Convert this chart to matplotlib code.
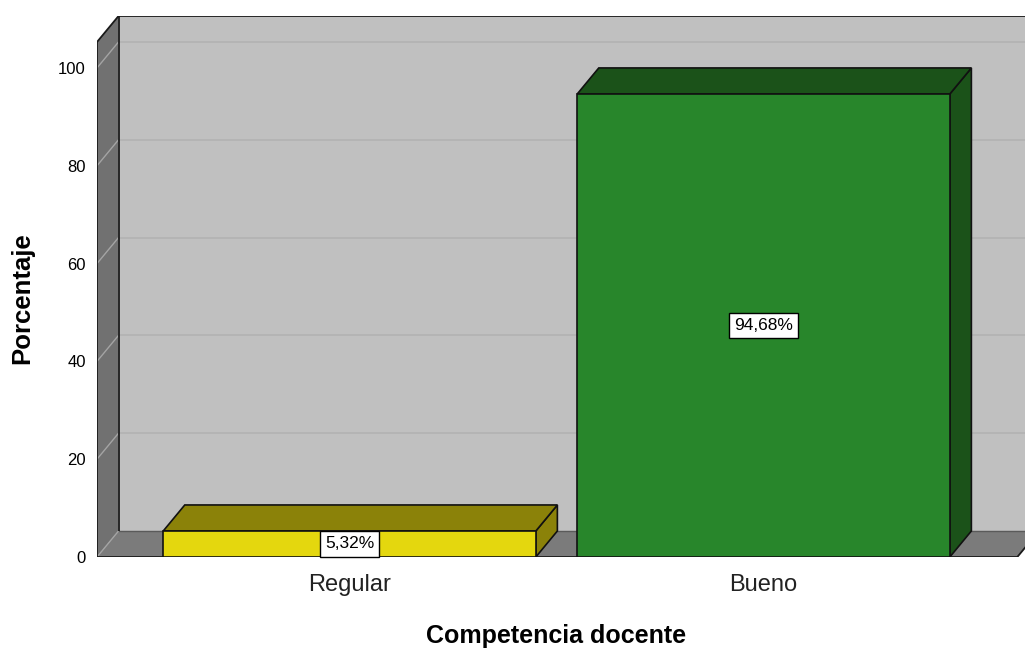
import matplotlib.pyplot as plt
from matplotlib.patches import Polygon, Rectangle

plt.rcParams["font.family"] = ["Liberation Sans", "DejaVu Sans"]

categories = ["Regular", "Bueno"]
percentages = [5.32, 94.68]
labels = ["5,32%", "94,68%"]
front_colors = ["#e4d70e", "#28862b"]
dark_colors = ["#8b8209", "#1b5219"]
yticks = [0, 20, 40, 60, 80, 100]

# fake 3D depth, in data units
DX = 0.052
DY = 5.32
X0, X1 = -0.61, 1.613   # front plane left/right
YTOP = 105.3            # front top of the walls
BAR_W = 0.9

fig = plt.figure(figsize=(10.25, 6.51), dpi=100)
ax = fig.add_axes([97 / 1025, 94 / 651, 928 / 1025, 541 / 651])
ax.set_xlim(X0, X0 + 928 / 414)
ax.set_ylim(0, YTOP + DY)
for s in ax.spines.values():
    s.set_visible(False)
ax.patch.set_visible(False)

# walls
ax.add_patch(Rectangle((X0 + DX, DY), 3, YTOP, facecolor="#c0c0c0", edgecolor="none", zorder=0))
ax.add_patch(Polygon([(X0, 0), (X0, YTOP), (X0 + DX, YTOP + DY), (X0 + DX, DY)],
                     facecolor="#717171", edgecolor="none", zorder=0))
ax.add_patch(Polygon([(X0, 0), (X1, 0), (X1 + DX, DY), (X0 + DX, DY)],
                     facecolor="#7b7b7b", edgecolor="none", zorder=0))

# gridlines on back and left walls
for v in yticks:
    if v > 0:
        ax.plot([X0 + DX, 3], [v + DY, v + DY], color="#b2b2b2", lw=1.2, zorder=1)
    ax.plot([X0, X0 + DX], [v, v + DY], color="#a4a4a4", lw=1.0, zorder=1)

# wall outlines
k = dict(color="#1a1a1a", lw=1.3, zorder=2, solid_capstyle="butt")
ax.plot([X0, X0, X0 + DX, 3], [0, YTOP, YTOP + DY, YTOP + DY], **k)
ax.plot([X0 + DX, X0 + DX], [DY, YTOP + DY], **k)
ax.plot([X0, X1, X1 + DX], [0, 0, DY], **k)
ax.plot([X0 + DX, X1 + DX], [DY, DY], color="#5a5a5a", lw=1.0, zorder=1)

# bars
for i, (v, fc, dc, lab) in enumerate(zip(percentages, front_colors, dark_colors, labels)):
    l, r = i - BAR_W / 2, i + BAR_W / 2
    ax.add_patch(Polygon([(r, 0), (r + DX, DY), (r + DX, v + DY), (r, v)],
                         facecolor=dc, edgecolor="#111111", lw=1.2, zorder=3))
    ax.add_patch(Polygon([(l, v), (r, v), (r + DX, v + DY), (l + DX, v + DY)],
                         facecolor=dc, edgecolor="#111111", lw=1.2, zorder=3))
    ax.add_patch(Rectangle((l, 0), BAR_W, v, facecolor=fc, edgecolor="#111111", lw=1.2, zorder=4))
    ax.text(i, v / 2, lab, ha="center", va="center", fontsize=12.5, zorder=5,
            bbox=dict(boxstyle="square,pad=0.3", facecolor="white", edgecolor="black", lw=1))

ax.set_yticks(yticks)
ax.set_xticks(range(len(categories)))
ax.set_xticklabels(categories)
ax.tick_params(axis="y", length=0, pad=8, labelsize=12)
ax.tick_params(axis="x", length=0, pad=12, labelsize=17, labelcolor="#222222")

fig.text(556 / 1025, 1 - 636 / 651, "Competencia docente", ha="center", va="center",
         fontsize=18, fontweight="bold")
fig.text(22 / 1025, 1 - 298 / 651, "Porcentaje", ha="center", va="center",
         rotation=90, fontsize=18.5, fontweight="bold")

fig.savefig("out.png", dpi=100)
